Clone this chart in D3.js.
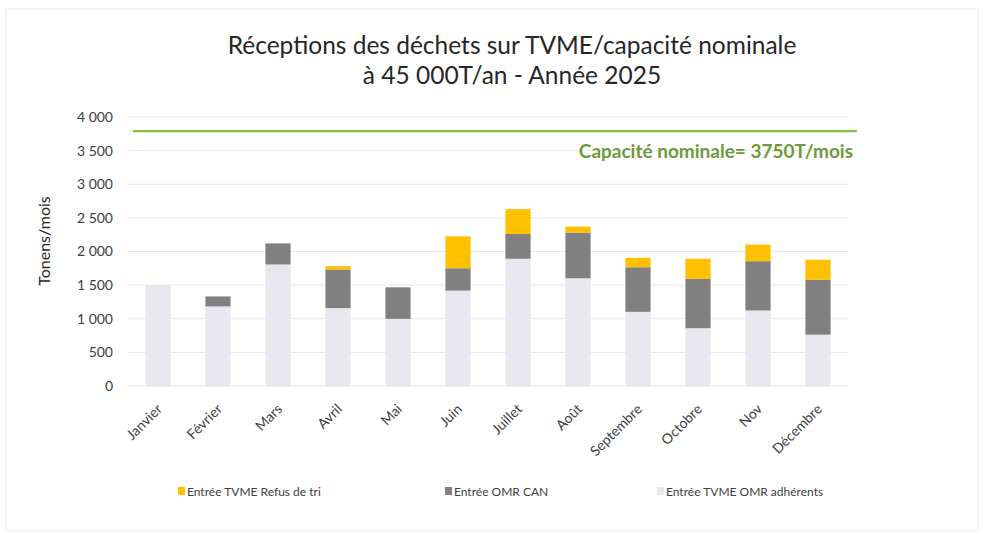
<!DOCTYPE html>
<html>
<head>
<meta charset="utf-8">
<script src="https://cdn.jsdelivr.net/npm/d3@7"></script>
<style>
    body { margin: 0; background: #fff; }
    svg { font-family: Lato, "Open Sans", sans-serif; }
</style>
</head>
<body>
<svg id="drawing_region"></svg>
<script>
// chart values
const months = ['Janvier', 'Février', 'Mars', 'Avril', 'Mai', 'Juin', 'Juillet', 'Août', 'Septembre', 'Octobre', 'Nov', 'Décembre'];
const omrAdherents = [1507, 1183, 1807, 1159, 998, 1418, 1892, 1602, 1103, 859, 1123, 763];
const omrCan = [0, 149, 314, 573, 469, 333, 368, 679, 663, 734, 733, 819];
const refusTri = [0, 0, 0, 49, 0, 475, 370, 90, 141, 299, 246, 295];
const yTicks = [0, 500, 1000, 1500, 2000, 2500, 3000, 3500, 4000];
const capacityLine = 3790;
const seriesNames = ['Entrée TVME OMR adhérents', 'Entrée OMR CAN', 'Entrée TVME Refus de tri'];

const width = 983, height = 534;
const margin = {top: 117, right: 135, bottom: 148, left: 128};

const svg = d3.select('#drawing_region')
    .attr('width', width)
    .attr('height', height);

// faint frame of the scanned page
svg.append('rect')
    .attr('x', 6).attr('y', 9)
    .attr('width', 972).attr('height', 522)
    .attr('fill', 'none')
    .attr('stroke', '#ececec');

const chart = svg.append('g')
    .attr('transform', `translate(${margin.left}, ${margin.top})`);

const inner_width = width - margin.left - margin.right;
const inner_height = height - margin.top - margin.bottom;

const xscale = d3.scaleBand()
    .domain(months)
    .range([0, inner_width])
    .paddingInner(0.58)
    .paddingOuter(0.29);

const yscale = d3.scaleLinear()
    .domain([0, 4000])
    .range([inner_height, 0]);

const color = d3.scaleOrdinal()
    .domain(seriesNames)
    .range(['#e8e6ef', '#808080', '#ffc000']);

// gridlines
chart.append('g')
    .selectAll('line')
    .data(yTicks)
    .join('line')
    .attr('x1', 0)
    .attr('x2', inner_width)
    .attr('y1', d => yscale(d))
    .attr('y2', d => yscale(d))
    .attr('stroke', d => d === 0 ? '#e0dde6' : '#e8e8e8')
    .attr('stroke-width', 1);

// y axis
const yaxis = d3.axisLeft(yscale)
    .tickValues(yTicks)
    .tickFormat(d => d3.format(',')(d).replace(',', ' '))
    .tickSize(0)
    .tickPadding(15);

const yaxis_group = chart.append('g').call(yaxis);
yaxis_group.select('.domain').remove();
yaxis_group.attr('font-family', null);
yaxis_group.selectAll('text')
    .attr('font-size', 14)
    .attr('fill', '#404040');

// stacked bars
const table = months.map((m, i) => ({
    month: m,
    [seriesNames[0]]: omrAdherents[i],
    [seriesNames[1]]: omrCan[i],
    [seriesNames[2]]: refusTri[i]
}));
const stacked = d3.stack().keys(seriesNames)(table);

chart.append('g')
    .selectAll('g')
    .data(stacked)
    .join('g')
    .attr('fill', d => color(d.key))
    .selectAll('rect')
    .data(d => d)
    .join('rect')
    .attr('x', d => xscale(d.data.month))
    .attr('y', d => yscale(d[1]))
    .attr('width', xscale.bandwidth())
    .attr('height', d => yscale(d[0]) - yscale(d[1]));

// capacity line
chart.append('line')
    .attr('x1', 5)
    .attr('x2', inner_width + 9)
    .attr('y1', yscale(capacityLine))
    .attr('y2', yscale(capacityLine))
    .attr('stroke', '#86bf3c')
    .attr('stroke-width', 2.4);

chart.append('text')
    .attr('x', inner_width + 5)
    .attr('y', yscale(capacityLine) + 27)
    .attr('text-anchor', 'end')
    .attr('font-size', 19)
    .attr('font-weight', 'bold')
    .attr('fill', '#6e9a3c')
    .text('Capacité nominale= 3750T/mois');

// x axis labels
const xaxis = d3.axisBottom(xscale).tickSize(0).tickPadding(0);
const xaxis_group = chart.append('g')
    .attr('transform', `translate(0, ${inner_height})`)
    .call(xaxis);
xaxis_group.select('.domain').remove();
xaxis_group.attr('font-family', null);
xaxis_group.selectAll('text')
    .attr('font-size', 14)
    .attr('fill', '#404040')
    .attr('text-anchor', 'end')
    .attr('dy', 0)
    .attr('transform', 'translate(5, 24) rotate(-45)');

// y axis title
svg.append('text')
    .attr('transform', 'translate(50, 241) rotate(-90)')
    .attr('text-anchor', 'middle')
    .attr('font-size', 16)
    .attr('fill', '#262626')
    .text('Tonens/mois');

// title
const title = svg.append('text')
    .attr('text-anchor', 'middle')
    .attr('font-size', 24.5)
    .attr('fill', '#262626');
title.append('tspan').attr('x', 512).attr('y', 54).text('Réceptions des déchets sur TVME/capacité nominale');
title.append('tspan').attr('x', 512).attr('y', 84).text('à 45 000T/an - Année 2025');

// legend
const legendItems = [
    {name: seriesNames[2], x: 178},
    {name: seriesNames[1], x: 445},
    {name: seriesNames[0], x: 657}
];
const legend = svg.append('g')
    .selectAll('g')
    .data(legendItems)
    .join('g')
    .attr('transform', d => `translate(${d.x}, 492)`);
legend.append('rect')
    .attr('x', 0).attr('y', -5)
    .attr('width', 7).attr('height', 8)
    .attr('fill', d => color(d.name));
legend.append('text')
    .attr('x', 9)
    .attr('y', 3.5)
    .attr('font-size', 12)
    .attr('fill', '#404040')
    .text(d => d.name);
</script>
</body>
</html>
